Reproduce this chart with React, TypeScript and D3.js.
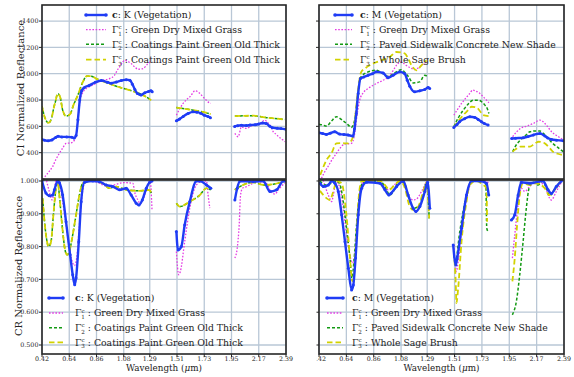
import React from 'react';
import * as d3 from 'd3';

type Pt = [number, number] | null;

// Wavelength tick labels (µm) and reflectance tick labels
const wlTicks = [0.42, 0.64, 0.86, 1.08, 1.29, 1.51, 1.73, 1.95, 2.17, 2.39];
const ciTicks = [400, 600, 800, 1000, 1200, 1400];
const crTicks = [1.0, 0.9, 0.8, 0.7, 0.6, 0.5];

// ---- CI normalized reflectance, class K ----
const ciK_c: Pt[] = [
  [0.42, 500], [0.44, 495], [0.47, 490], [0.5, 497], [0.53, 515], [0.55, 525], [0.58, 520], [0.62, 520],
  [0.66, 518], [0.68, 512], [0.695, 530], [0.71, 650], [0.725, 800], [0.74, 870], [0.76, 893], [0.8, 910],
  [0.85, 935], [0.9, 948], [0.95, 935], [0.98, 928], [1.02, 937], [1.06, 948], [1.1, 955], [1.13, 950],
  [1.15, 920], [1.17, 880], [1.19, 850], [1.22, 838], [1.25, 855], [1.28, 865], [1.3, 870], [1.31, 862], null,
  [1.505, 642], [1.53, 655], [1.56, 675], [1.6, 698], [1.64, 710], [1.67, 708], [1.7, 700], [1.73, 685],
  [1.76, 675], [1.78, 665], null,
  [1.975, 598], [2.0, 605], [2.03, 608], [2.07, 606], [2.1, 610], [2.14, 612], [2.17, 618], [2.2, 625],
  [2.23, 622], [2.26, 600], [2.28, 590], [2.32, 585], [2.35, 583], [2.39, 578],
];
const ciK_g1: Pt[] = [
  [0.43, 195], [0.45, 225], [0.48, 260], [0.506, 294], [0.53, 345], [0.56, 395], [0.59, 440], [0.614, 470],
  [0.655, 475], [0.682, 496], [0.7, 560], [0.715, 700], [0.728, 799], [0.745, 850], [0.763, 875], [0.8, 900],
  [0.83, 913], [0.87, 935], [0.91, 950], [0.965, 963], [1.005, 988], [1.03, 1030], [1.046, 1052], [1.07, 1085],
  [1.087, 1102], [1.11, 1095], [1.14, 1077], [1.17, 1050], [1.195, 1034], [1.235, 1039], [1.276, 1077], [1.302, 1095], null,
  [1.505, 685], [1.53, 730], [1.559, 774], [1.59, 805], [1.613, 824], [1.635, 850], [1.653, 870], [1.68, 862],
  [1.7, 845], [1.72, 824], [1.74, 805], [1.76, 786], [1.782, 774], null,
  [1.977, 547], [1.99, 530], [2.004, 521], [2.03, 596], [2.05, 590], [2.07, 584], [2.1, 598], [2.125, 610],
  [2.18, 622], [2.22, 647], [2.24, 630], [2.26, 610], [2.287, 559], [2.31, 540], [2.33, 521], [2.36, 500], [2.38, 483],
];
const ciK_g2: Pt[] = [
  [0.42, 754], [0.435, 690], [0.452, 647], [0.474, 627], [0.5, 672], [0.515, 740], [0.528, 786], [0.547, 849],
  [0.566, 824], [0.587, 723], [0.614, 678], [0.647, 693], [0.674, 761], [0.709, 837], [0.75, 938], [0.782, 981],
  [0.817, 981], [0.857, 963], [0.925, 938], [1.02, 905], [1.127, 875], [1.235, 837], [1.302, 799], null,
  [1.505, 743], [1.64, 723], [1.72, 710], [1.782, 693], null,
  [1.977, 678], [2.05, 680], [2.125, 681], [2.18, 675], [2.233, 666], [2.3, 660], [2.38, 652],
];
const ciK_g3: Pt[] = ciK_g2;

// ---- CI normalized reflectance, class M ----
const ciM_c: Pt[] = [
  [0.42, 552], [0.45, 545], [0.48, 539], [0.51, 548], [0.546, 559], [0.586, 541], [0.62, 538], [0.654, 534],
  [0.694, 526], [0.705, 580], [0.72, 698], [0.735, 850], [0.753, 963], [0.78, 975], [0.815, 988], [0.85, 1000],
  [0.88, 1014], [0.935, 1006], [0.975, 970], [1.016, 988], [1.07, 1014], [1.11, 1000], [1.13, 950], [1.15, 905],
  [1.19, 862], [1.23, 870], [1.27, 880], [1.298, 895], [1.31, 888], null,
  [1.504, 592], [1.53, 615], [1.55, 635], [1.59, 658], [1.633, 673], [1.673, 668], [1.7, 652], [1.727, 635],
  [1.75, 622], [1.78, 610], null,
  [1.969, 508], [2.0, 510], [2.063, 513], [2.1, 522], [2.143, 534], [2.197, 546], [2.237, 526], [2.26, 512],
  [2.29, 501], [2.33, 495], [2.384, 491],
];
const ciM_g1: Pt[] = [
  [0.44, 205], [0.46, 245], [0.492, 294], [0.52, 340], [0.56, 395], [0.59, 435], [0.627, 466], [0.68, 470],
  [0.707, 546], [0.725, 680], [0.747, 799], [0.78, 860], [0.815, 888], [0.88, 925], [0.935, 950], [0.99, 988],
  [1.02, 1030], [1.042, 1064], [1.08, 1090], [1.12, 1064], [1.155, 1045], [1.19, 1031], [1.244, 1064], [1.284, 1090], null,
  [1.504, 685], [1.535, 730], [1.566, 774], [1.6, 815], [1.633, 850], [1.655, 875], [1.68, 868], [1.714, 850],
  [1.74, 825], [1.767, 799], [1.786, 779], null,
  [1.977, 521], [2.01, 559], [2.04, 584], [2.09, 602], [2.143, 622], [2.197, 647], [2.237, 622], [2.26, 595],
  [2.29, 559], [2.34, 525], [2.384, 496],
];
const ciM_g2: Pt[] = [
  [0.42, 617], [0.45, 610], [0.48, 602], [0.52, 640], [0.56, 673], [0.613, 642], [0.65, 615], [0.68, 592],
  [0.707, 647], [0.73, 820], [0.753, 970], [0.815, 1014], [0.88, 1026], [0.935, 1000], [0.975, 980], [1.042, 1014],
  [1.08, 1031], [1.11, 1010], [1.137, 980], [1.177, 930], [1.23, 938], [1.27, 988], [1.298, 975], null,
  [1.504, 597], [1.54, 665], [1.58, 723], [1.62, 770], [1.66, 799], [1.7, 799], [1.73, 785], [1.754, 761],
  [1.775, 730], [1.786, 698], null,
  [1.977, 408], [2.0, 450], [2.04, 496], [2.08, 530], [2.116, 559], [2.16, 565], [2.197, 564], [2.237, 534],
  [2.27, 500], [2.3, 470], [2.34, 440], [2.384, 408],
];
const ciM_g3: Pt[] = [
  [0.43, 230], [0.45, 280], [0.48, 344], [0.52, 395], [0.56, 470], [0.6, 472], [0.654, 470], [0.694, 521],
  [0.71, 660], [0.734, 875], [0.76, 1014], [0.79, 1040], [0.828, 1064], [0.875, 1085], [0.922, 1102], [0.99, 1127],
  [1.042, 1165], [1.08, 1162], [1.11, 1153], [1.14, 1110], [1.164, 1064], [1.204, 1026], [1.244, 1064], [1.284, 1102], null,
  [1.504, 592], [1.54, 640], [1.58, 685], [1.62, 725], [1.647, 749], [1.687, 743], [1.715, 715], [1.74, 685], [1.786, 678], null,
  [1.977, 408], [2.0, 425], [2.04, 446], [2.116, 446], [2.15, 465], [2.183, 483], [2.21, 480], [2.237, 470],
  [2.27, 440], [2.3, 408], [2.34, 392], [2.384, 382],
];

// ---- CR normalized reflectance, class K ----
const crK_c: Pt[] = [
  [0.42, 1.0], [0.452, 0.963], [0.479, 0.955], [0.506, 0.957], [0.52, 0.973], [0.547, 1.0], [0.56, 0.995], [0.587, 0.957],
  [0.614, 0.876], [0.647, 0.775], [0.668, 0.714], [0.684, 0.684], [0.695, 0.704], [0.717, 0.815], [0.736, 0.937],
  [0.763, 0.996], [0.83, 1.0], [0.884, 0.998], [0.938, 0.988], [0.992, 0.983], [1.046, 0.973], [1.1, 0.978],
  [1.14, 0.957], [1.181, 0.932], [1.203, 0.927], [1.23, 0.942], [1.262, 0.978], [1.289, 0.996], [1.308, 1.0], null,
  [1.505, 0.846], [1.518, 0.79], [1.545, 0.8], [1.572, 0.866], [1.613, 0.937], [1.667, 1.0], [1.694, 1.0],
  [1.748, 0.988], [1.783, 0.978], null,
  [1.977, 0.942], [1.996, 0.978], [2.018, 1.0], [2.126, 0.998], [2.207, 1.0], [2.26, 0.968], [2.314, 0.973],
  [2.368, 1.0], [2.387, 1.0],
];
const crK_g1: Pt[] = [
  [0.445, 1.02], [0.479, 0.968], [0.501, 0.942], [0.514, 0.957], [0.533, 1.0], [0.56, 0.993], [0.587, 0.937],
  [0.614, 0.866], [0.641, 0.795], [0.668, 0.75], [0.682, 0.742], [0.7, 0.765], [0.722, 0.866], [0.744, 0.957],
  [0.771, 1.0], [0.85, 0.998], [0.94, 0.985], [1.0, 0.988], [1.08, 0.995], [1.154, 0.993], [1.167, 0.968],
  [1.194, 0.942], [1.213, 0.932], [1.24, 0.947], [1.275, 0.988], [1.294, 1.0], [1.308, 0.912], null,
  [1.505, 0.785], [1.524, 0.714], [1.537, 0.724], [1.572, 0.815], [1.613, 0.917], [1.667, 0.988], [1.721, 1.0],
  [1.748, 1.0], [1.761, 0.957], [1.775, 0.917], null,
  [1.977, 0.765], [1.996, 0.795], [2.012, 0.866], [2.023, 0.957], [2.039, 0.978], [2.072, 0.983], [2.098, 0.988],
  [2.152, 0.998], [2.233, 0.992], [2.266, 0.968], [2.301, 0.96], [2.328, 0.973], [2.382, 0.995],
];
const crK_g2: Pt[] = [
  [0.425, 0.947], [0.452, 0.836], [0.474, 0.8], [0.493, 0.815], [0.512, 0.897], [0.533, 0.978], [0.547, 1.0],
  [0.56, 0.957], [0.582, 0.866], [0.606, 0.79], [0.622, 0.775], [0.636, 0.78], [0.668, 0.836], [0.695, 0.897],
  [0.722, 0.957], [0.749, 0.993], [0.83, 1.0], [0.911, 0.993], [0.965, 0.978], [1.019, 0.983], [1.1, 0.973],
  [1.208, 0.97], [1.289, 0.973], [1.305, 0.957], null,
  [1.505, 0.932], [1.532, 0.922], [1.613, 0.937], [1.694, 0.957], [1.748, 0.978], [1.783, 0.973], null,
  [1.977, 0.973], [2.018, 0.983], [2.126, 0.996], [2.207, 0.988], [2.287, 0.99], [2.382, 1.0],
];
const crK_g3: Pt[] = crK_g2;

// ---- CR normalized reflectance, class M ----
const crM_c: Pt[] = [
  [0.428, 0.993], [0.455, 0.983], [0.495, 0.988], [0.522, 1.0], [0.548, 0.993], [0.575, 0.968], [0.602, 0.897],
  [0.629, 0.815], [0.656, 0.734], [0.682, 0.668], [0.696, 0.683], [0.714, 0.765], [0.736, 0.897], [0.763, 0.978],
  [0.803, 0.996], [0.91, 0.993], [0.95, 0.973], [0.982, 0.957], [0.998, 0.962], [1.044, 0.983], [1.097, 1.0],
  [1.137, 0.957], [1.177, 0.917], [1.199, 0.907], [1.231, 0.922], [1.271, 0.968], [1.293, 0.996], [1.311, 0.917], null,
  [1.499, 0.805], [1.52, 0.744], [1.531, 0.765], [1.566, 0.856], [1.606, 0.957], [1.646, 1.0], [1.713, 1.0],
  [1.766, 0.993], [1.785, 0.957], null,
  [1.967, 0.881], [1.994, 0.897], [2.021, 0.957], [2.047, 0.996], [2.114, 0.993], [2.221, 1.0], [2.262, 0.973],
  [2.288, 0.962], [2.328, 0.983], [2.369, 1.0],
];
const crM_g1: Pt[] = [
  [0.428, 1.03], [0.455, 1.0], [0.495, 0.957], [0.522, 0.937], [0.535, 0.957], [0.557, 0.998], [0.589, 0.978],
  [0.615, 0.917], [0.642, 0.836], [0.674, 0.765], [0.688, 0.75], [0.709, 0.775], [0.728, 0.876], [0.749, 0.968],
  [0.776, 0.996], [0.883, 1.0], [0.937, 0.985], [0.977, 0.973], [1.017, 0.985], [1.07, 1.0], [1.097, 0.995],
  [1.137, 0.957], [1.177, 0.942], [1.204, 0.945], [1.244, 0.968], [1.285, 1.0], null,
  [1.504, 0.805], [1.525, 0.724], [1.539, 0.755], [1.574, 0.866], [1.619, 0.968], [1.659, 1.0], [1.769, 1.0],
  [1.785, 0.988], null,
  [1.975, 0.765], [1.994, 0.836], [2.021, 0.927], [2.047, 0.978], [2.074, 0.968], [2.114, 0.983], [2.168, 0.996],
  [2.235, 0.988], [2.262, 0.957], [2.288, 0.942], [2.328, 0.968], [2.369, 0.996],
];
const crM_g2: Pt[] = [
  [0.428, 1.0], [0.468, 0.988], [0.535, 0.996], [0.562, 1.0], [0.589, 0.988], [0.615, 0.937], [0.642, 0.856],
  [0.669, 0.765], [0.685, 0.704], [0.701, 0.755], [0.722, 0.866], [0.749, 0.968], [0.776, 0.996], [0.91, 1.0],
  [0.95, 0.983], [0.99, 0.957], [1.017, 0.968], [1.07, 1.0], [1.111, 0.99], [1.151, 0.937], [1.183, 0.917],
  [1.218, 0.922], [1.258, 0.957], [1.285, 0.996], [1.306, 0.886], null,
  [1.504, 0.775], [1.517, 0.755], [1.552, 0.846], [1.606, 0.957], [1.646, 1.0], [1.74, 1.0], [1.761, 0.998],
  [1.769, 0.856], [1.78, 0.846], null,
  [1.975, 0.592], [2.007, 0.633], [2.034, 0.714], [2.061, 0.815], [2.087, 0.917], [2.109, 0.978], [2.141, 0.996],
  [2.181, 0.988], [2.221, 1.0], [2.248, 0.978], [2.275, 0.955], [2.315, 0.973], [2.369, 1.0],
];
const crM_g3: Pt[] = [
  [0.428, 0.97], [0.482, 0.947], [0.508, 0.942], [0.535, 0.968], [0.562, 1.0], [0.602, 0.993], [0.629, 0.937],
  [0.648, 0.866], [0.669, 0.765], [0.688, 0.694], [0.701, 0.714], [0.722, 0.846], [0.741, 0.957], [0.763, 1.0],
  [0.91, 1.0], [0.95, 0.988], [0.985, 0.973], [1.017, 0.983], [1.07, 1.0], [1.111, 0.978], [1.145, 0.927],
  [1.177, 0.912], [1.218, 0.922], [1.258, 0.968], [1.285, 0.996], [1.306, 0.886], null,
  [1.504, 0.785], [1.52, 0.684], [1.525, 0.628], [1.539, 0.673], [1.566, 0.815], [1.606, 0.937], [1.632, 0.988],
  [1.686, 1.0], [1.74, 0.988], [1.766, 0.978], [1.772, 0.876], null,
  [1.975, 0.694], [1.994, 0.765], [2.013, 0.866], [2.034, 0.957], [2.061, 0.993], [2.114, 0.988], [2.168, 0.993],
  [2.235, 0.978], [2.27, 0.957], [2.302, 0.968], [2.355, 0.996],
];

// Legend names
const namesK = ['K (Vegetation)', 'Green Dry Mixed Grass', 'Coatings Paint Green Old Thick', 'Coatings Paint Green Old Thick'];
const namesM = ['M (Vegetation)', 'Green Dry Mixed Grass', 'Paved Sidewalk Concrete New Shade', 'Whole Sage Brush'];

const FONT = "'DejaVu Serif', serif";
const GRID = '#b9c7d6';
const SPINE = '#262626';
const TXT = '#222';

const STYLES = [
  { color: '#1f3cf5', width: 2.4, dash: undefined as string | undefined, marker: true },
  { color: '#e43be4', width: 1.3, dash: '1.6,1.6', marker: false },
  { color: '#139a13', width: 1.5, dash: '3,2', marker: false },
  { color: '#d2d200', width: 1.8, dash: '5.5,3', marker: false },
];

interface PanelProps {
  id: string;
  xr: [number, number];
  yr: [number, number];
  yDomain: [number, number];
  series: Pt[][]; // [c, g1, g2, g3]
  yTicks: number[];
  yFmt: ((v: number) => string) | null;
  showX: boolean;
  names: string[];
  legend: { hx0: number; hx1: number; tx: number; rows: number[] };
}

function Panel({ id, xr, yr, yDomain, series, yTicks, yFmt, showX, names, legend }: PanelProps) {
  const x = d3.scaleLinear().domain([0.42, 2.39]).range(xr);
  const y = d3.scaleLinear().domain(yDomain).range([yr[1], yr[0]]);
  const line = d3
    .line<Pt>()
    .defined((d) => d !== null)
    .x((d) => x((d as [number, number])[0]))
    .y((d) => y((d as [number, number])[1]))
    .curve(d3.curveMonotoneX);

  const order = [1, 2, 3, 0];
  return (
    <g>
      <defs>
        <clipPath id={id}>
          <rect x={xr[0]} y={yr[0]} width={xr[1] - xr[0]} height={yr[1] - yr[0]} />
        </clipPath>
      </defs>
      <rect x={xr[0]} y={yr[0]} width={xr[1] - xr[0]} height={yr[1] - yr[0]} fill="#fff" />
      {/* grid */}
      {wlTicks.map((t) => (
        <line key={'gx' + t} x1={x(t)} x2={x(t)} y1={yr[0]} y2={yr[1]} stroke={GRID} strokeWidth={1.3} />
      ))}
      {yTicks.map((t) => (
        <line key={'gy' + t} x1={xr[0]} x2={xr[1]} y1={y(t)} y2={y(t)} stroke={GRID} strokeWidth={1.3} />
      ))}
      {/* spectra */}
      <g clipPath={`url(#${id})`}>
        {order.map((i) => {
          const s = STYLES[i];
          return (
            <g key={'s' + i}>
              <path d={line(series[i]) || ''} fill="none" stroke={s.color} strokeWidth={s.width}
                strokeDasharray={s.dash} strokeLinejoin="round" />
              {s.marker &&
                series[i].filter((d) => d !== null).map((d, k) => (
                  <circle key={k} cx={x((d as [number, number])[0])} cy={y((d as [number, number])[1])} r={1.5} fill={s.color} />
                ))}
            </g>
          );
        })}
      </g>
      {/* spines */}
      <rect x={xr[0]} y={yr[0]} width={xr[1] - xr[0]} height={yr[1] - yr[0]} fill="none" stroke={SPINE} strokeWidth={1.6} />
      {/* y ticks */}
      {yTicks.map((t) => (
        <g key={'ty' + t}>
          <line x1={xr[0] - 3} x2={xr[0]} y1={y(t)} y2={y(t)} stroke={SPINE} strokeWidth={1} />
          {yFmt && (
            <text x={xr[0] - 3.5} y={y(t) + 2.2} fontSize={6.4} textAnchor="end" fill={TXT} fontFamily={FONT}>
              {yFmt(t)}
            </text>
          )}
        </g>
      ))}
      {/* x ticks */}
      {showX &&
        wlTicks.map((t) => (
          <g key={'tx' + t}>
            <line x1={x(t)} x2={x(t)} y1={yr[1]} y2={yr[1] + 3} stroke={SPINE} strokeWidth={1} />
            <text x={x(t)} y={yr[1] + 6.6} fontSize={6.3} textAnchor="middle" fill={TXT} fontFamily={FONT}>
              {t.toFixed(2)}
            </text>
          </g>
        ))}
      {/* legend */}
      {names.map((name, i) => {
        const s = STYLES[i];
        const cy = legend.rows[i];
        return (
          <g key={'lg' + i}>
            <line x1={legend.hx0} x2={legend.hx1} y1={cy} y2={cy} stroke={s.color} strokeWidth={s.width}
              strokeDasharray={s.dash} />
            {s.marker && (
              <>
                <circle cx={legend.hx0} cy={cy} r={1.8} fill={s.color} />
                <circle cx={legend.hx1} cy={cy} r={1.8} fill={s.color} />
              </>
            )}
            {i === 0 ? (
              <text x={legend.tx} y={cy + 3.2} fontSize={9.3} fill={TXT} fontFamily={FONT}>
                <tspan fontWeight="bold">c</tspan>
                {': ' + name}
              </text>
            ) : (
              <text x={legend.tx} y={cy + 3.2} fontSize={9.3} fill={TXT} fontFamily={FONT}>
                <tspan>Γ</tspan>
                <tspan fontSize={5.6} dy={-3.6}>c</tspan>
                <tspan fontSize={5.6} dx={-3.3} dy={6.2}>{String(i)}</tspan>
                <tspan dy={-2.6}>{' : ' + name}</tspan>
              </text>
            )}
          </g>
        );
      })}
    </g>
  );
}

export default function App() {
  const W = 574;
  const H = 377;
  const colL: [number, number] = [42, 286];
  const colR: [number, number] = [319, 564];
  const rowT: [number, number] = [5, 179];
  const rowB: [number, number] = [180, 354];
  const ciDomain: [number, number] = [200, 1522];
  const crDomain: [number, number] = [0.4726, 1.003];
  const topRows = [15, 29.7, 44.3, 59.7];
  const botRows = [298, 313, 327.8, 342.3];

  return (
    <svg width={W} height={H} viewBox={`0 0 ${W} ${H}`}
      style={{ position: 'fixed', left: 0, top: 0, background: '#fff' }}>
      <rect width={W} height={H} fill="#fff" />
      <defs>
        <clipPath id="rightLabels">
          <rect x={316.5} y={0} width={W} height={H} />
        </clipPath>
      </defs>
      <Panel id="cTL" xr={colL} yr={rowT} yDomain={ciDomain}
        series={[ciK_c, ciK_g1, ciK_g2, ciK_g3]} yTicks={ciTicks} yFmt={(v) => String(v)} showX={false}
        names={namesK} legend={{ hx0: 86, hx1: 106, tx: 112, rows: topRows }} />
      <Panel id="cTR" xr={colR} yr={rowT} yDomain={ciDomain}
        series={[ciM_c, ciM_g1, ciM_g2, ciM_g3]} yTicks={ciTicks} yFmt={null} showX={false}
        names={namesM} legend={{ hx0: 335, hx1: 352, tx: 360, rows: topRows }} />
      <Panel id="cBL" xr={colL} yr={rowB} yDomain={crDomain}
        series={[crK_c, crK_g1, crK_g2, crK_g3]} yTicks={crTicks} yFmt={(v) => v.toFixed(3)} showX={true}
        names={namesK} legend={{ hx0: 49, hx1: 63, tx: 75, rows: botRows }} />
      <g clipPath="url(#rightLabels)">
        <Panel id="cBR" xr={colR} yr={rowB} yDomain={crDomain}
          series={[crM_c, crM_g1, crM_g2, crM_g3]} yTicks={crTicks} yFmt={null} showX={true}
          names={namesM} legend={{ hx0: 327, hx1: 343, tx: 352, rows: botRows }} />
      </g>
      {/* axis titles */}
      <text transform="translate(24,88) rotate(-90)" textAnchor="middle" fontSize={10} fill={TXT} fontFamily={FONT}>
        CI Normalized Reflectance
      </text>
      <text transform="translate(22,266) rotate(-90)" textAnchor="middle" fontSize={10} fill={TXT} fontFamily={FONT}>
        CR Normalized Reflectance
      </text>
      <text x={164} y={371} textAnchor="middle" fontSize={8.8} fill={TXT} fontFamily={FONT}>
        Wavelength (<tspan fontStyle="italic">μ</tspan>m)
      </text>
      <text x={441.5} y={371} textAnchor="middle" fontSize={8.8} fill={TXT} fontFamily={FONT}>
        Wavelength (<tspan fontStyle="italic">μ</tspan>m)
      </text>
    </svg>
  );
}
